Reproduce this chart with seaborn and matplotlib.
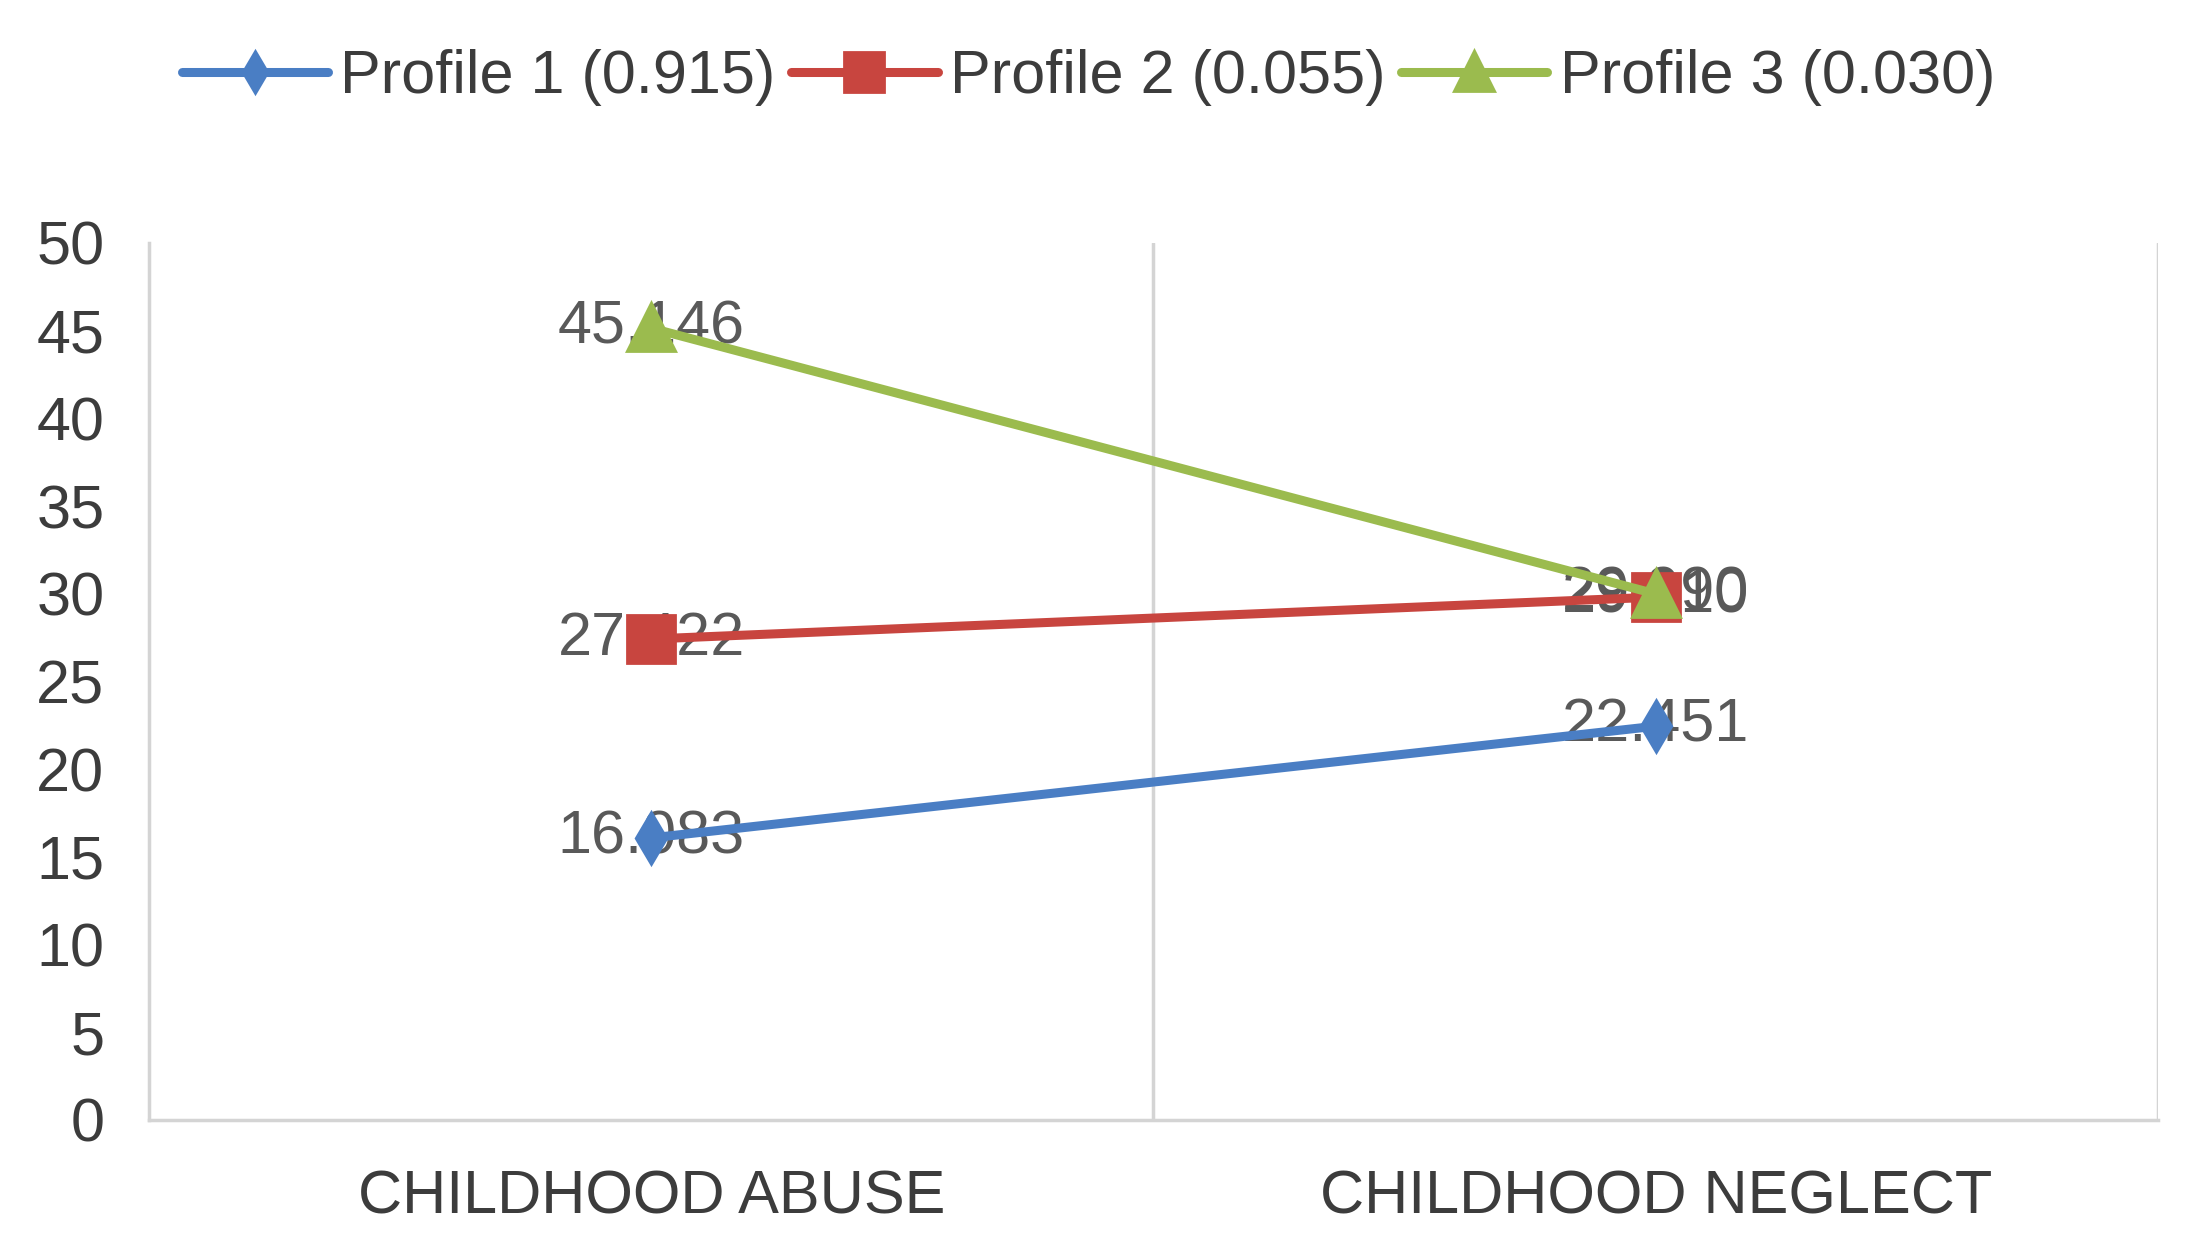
import pandas as pd
import seaborn as sns
import matplotlib.pyplot as plt

# chart data
categories = ["CHILDHOOD ABUSE", "CHILDHOOD NEGLECT"]
profiles = ["Profile 1 (0.915)", "Profile 2 (0.055)", "Profile 3 (0.030)"]
profile1 = [16.083, 22.451]
profile2 = [27.422, 29.810]
profile3 = [45.146, 29.990]
yticks = [0, 5, 10, 15, 20, 25, 30, 35, 40, 45, 50]

colors = ["#4A7EC4", "#C8453F", "#9BBB4E"]
markers = ["d", "s", "^"]
msizes = [22, 32, 30]

sns.set_theme(style="white")
plt.rcParams["font.family"] = ["Liberation Sans", "DejaVu Sans"]

rows = []
for name, vals in zip(profiles, [profile1, profile2, profile3]):
    for c, v in zip(categories, vals):
        rows.append({"category": c, "value": v, "profile": name})
df = pd.DataFrame(rows)

fig = plt.figure(figsize=(22.03, 12.57), dpi=100)
ax = fig.add_axes([0.0676, 0.109, 0.912, 0.6977])

# one pointplot per profile so each marker can get its own size
for name, col, mk, ms in zip(profiles, colors, markers, msizes):
    sub = df[df["profile"] == name]
    sns.pointplot(data=sub, x="category", y="value", order=categories,
                  color=col, marker=mk, markersize=ms, linewidth=6.5,
                  errorbar=None, label=name, ax=ax, zorder=3)

# data labels centred on the points
for vals in [profile1, profile2, profile3]:
    for i, v in enumerate(vals):
        ax.text(i, v, f"{v:.3f}", ha="center", va="center", fontsize=44,
                color="#595959", zorder=2)

ax.set_xlim(-0.5, 1.5)
ax.set_ylim(0, 50)
ax.set_yticks(yticks)
ax.set_xlabel("")
ax.set_ylabel("")
ax.tick_params(axis="y", length=0, pad=32, labelsize=44, labelcolor="#3c3c3c")
ax.tick_params(axis="x", length=0, pad=36, labelsize=44, labelcolor="#3c3c3c")

for s in ["top", "right"]:
    ax.spines[s].set_visible(False)
for s in ["left", "bottom"]:
    ax.spines[s].set_color("#d4d4d4")
    ax.spines[s].set_linewidth(2.5)
for xv in [0.5, 1.5]:
    ax.axvline(xv, color="#d4d4d4", lw=2.5, zorder=1)

handles, labels = ax.get_legend_handles_labels()
if ax.get_legend() is not None:
    ax.get_legend().remove()
fig.legend(handles, labels, loc="center", bbox_to_anchor=(0.494, 0.938), ncol=3,
           frameon=False, fontsize=44, handlelength=2.4, handletextpad=0.2,
           columnspacing=0.25, markerscale=0.8, labelcolor="#3c3c3c")

fig.savefig("out.png", dpi=100)
